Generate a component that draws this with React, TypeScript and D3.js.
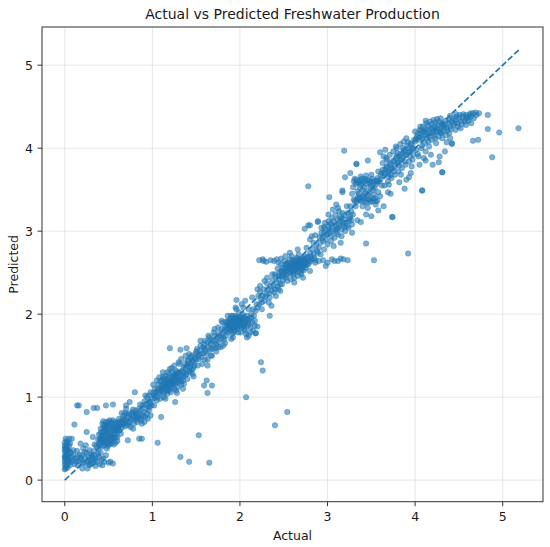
import * as d3 from 'd3';

// [actual, predicted] pairs, grouped by actual range
const stripNearZero: [number, number][] = [
  [0, 0.13], [0.01, 0.16], [0, 0.19], [0.02, 0.21], [0, 0.23], [0.01, 0.25], [0.03, 0.27], [0, 0.29],
  [0.02, 0.31], [0.01, 0.33], [0, 0.35], [0.03, 0.37], [0.01, 0.39], [0, 0.41], [0.02, 0.43], [0.04, 0.2],
  [0.05, 0.24], [0.04, 0.3], [0.06, 0.34], [0, 0.45], [0.01, 0.5], [0.05, 0.5], [0.03, 0.15], [0.02, 0.18],
  [0.04, 0.26], [0.01, 0.28], [0.03, 0.32], [0, 0.38], [0.02, 0.36], [0.05, 0.41], [0.07, 0.22], [0.08, 0.28],
  [0.06, 0.18], [0.1, 0.3], [0.12, 0.26], [0.03, 0.23], [0, 0.27], [0.02, 0.4], [0.08, 0.5], [0.1, 0.36],
  [0.07, 0.33], [0.09, 0.24], [0.11, 0.19], [0.04, 0.36], [0.02, 0.47], [0.06, 0.44], [0.01, 0.14], [0.03, 0.45],
];

const lowBand: [number, number][] = [
  [0.14, 0.9], [0.16, 0.9], [0.11, 0.67], [0.25, 0.82], [0.33, 0.87], [0.37, 0.87], [0.47, 0.9], [0.55, 0.91],
  [0.25, 0.58], [0.32, 0.52], [0.13, 0.22], [0.15, 0.28], [0.17, 0.31], [0.19, 0.24], [0.2, 0.3], [0.22, 0.2],
  [0.23, 0.27], [0.25, 0.33], [0.26, 0.22], [0.27, 0.28], [0.28, 0.18], [0.29, 0.25], [0.3, 0.31], [0.31, 0.2],
  [0.32, 0.27], [0.33, 0.35], [0.34, 0.24], [0.35, 0.17], [0.36, 0.3], [0.37, 0.22], [0.38, 0.38], [0.39, 0.28],
  [0.4, 0.19], [0.41, 0.33], [0.42, 0.25], [0.43, 0.18], [0.45, 0.22], [0.47, 0.3], [0.5, 0.21], [0.18, 0.44],
  [0.21, 0.38], [0.24, 0.42], [0.28, 0.36], [0.34, 0.43], [0.4, 0.42], [0.2, 0.14], [0.15, 0.18], [0.26, 0.14],
  [0.44, 0.26], [0.36, 0.41], [0.52, 0.22], [0.55, 0.2], [0.48, 0.38], [0.14, 0.35], [0.16, 0.23], [0.18, 0.27],
  [0.21, 0.21], [0.23, 0.34], [0.27, 0.24], [0.29, 0.19], [0.31, 0.29], [0.33, 0.21], [0.35, 0.26], [0.38, 0.32],
];

const halfCluster: [number, number][] = [
  [0.4, 0.45], [0.42, 0.5], [0.44, 0.55], [0.46, 0.6], [0.48, 0.65], [0.5, 0.7], [0.52, 0.68], [0.54, 0.63],
  [0.56, 0.58], [0.58, 0.52], [0.6, 0.47], [0.41, 0.62], [0.43, 0.68], [0.45, 0.42], [0.47, 0.47], [0.49, 0.52],
  [0.51, 0.57], [0.53, 0.44], [0.55, 0.49], [0.57, 0.67], [0.59, 0.62], [0.39, 0.55], [0.42, 0.4], [0.44, 0.46],
  [0.46, 0.52], [0.48, 0.58], [0.5, 0.62], [0.52, 0.54], [0.54, 0.48], [0.56, 0.43], [0.58, 0.7], [0.6, 0.58],
  [0.61, 0.65], [0.47, 0.7], [0.45, 0.66], [0.43, 0.58], [0.41, 0.48], [0.5, 0.45], [0.53, 0.6], [0.57, 0.55],
  [0.49, 0.41], [0.55, 0.72], [0.51, 0.49], [0.46, 0.56], [0.44, 0.63], [0.52, 0.66], [0.48, 0.44], [0.58, 0.45],
  [0.54, 0.53], [0.42, 0.53], [0.6, 0.52], [0.62, 0.6], [0.5, 0.54], [0.47, 0.61], [0.53, 0.7], [0.4, 0.5],
  [0.56, 0.64], [0.45, 0.5], [0.59, 0.68], [0.51, 0.43], [0.64, 0.56], [0.72, 0.48], [0.85, 0.5], [0.88, 0.5],
  [0.41, 0.57], [0.43, 0.47], [0.46, 0.45], [0.49, 0.67], [0.52, 0.47], [0.55, 0.61], [0.57, 0.51], [0.6, 0.63],
  [0.63, 0.68], [0.38, 0.49], [0.44, 0.71], [0.51, 0.72], [0.58, 0.6], [0.48, 0.49], [0.53, 0.51], [0.46, 0.64],
  [0.39, 0.44], [0.61, 0.7], [0.66, 0.67], [0.68, 0.73],
];

const bandToOne: [number, number][] = [
  [0.62, 0.66], [0.64, 0.7], [0.66, 0.74], [0.68, 0.68], [0.7, 0.72], [0.72, 0.76], [0.74, 0.7], [0.76, 0.74],
  [0.78, 0.78], [0.8, 0.72], [0.82, 0.76], [0.84, 0.8], [0.86, 0.74], [0.88, 0.78], [0.9, 0.82], [0.92, 0.76],
  [0.94, 0.8], [0.96, 0.84], [0.98, 0.78], [0.65, 0.63], [0.69, 0.65], [0.73, 0.8], [0.77, 0.82], [0.81, 0.84],
  [0.85, 0.86], [0.89, 0.9], [0.93, 0.92], [0.97, 0.95], [0.74, 0.94], [0.8, 1.06], [0.7, 0.86], [0.67, 0.78],
  [0.79, 0.68], [0.83, 0.7], [0.87, 0.72], [0.91, 0.7], [0.95, 0.74], [0.99, 0.9], [0.75, 0.64], [0.63, 0.6],
  [0.67, 0.7], [0.71, 0.79], [0.73, 0.69], [0.76, 0.8], [0.79, 0.75], [0.82, 0.81], [0.84, 0.77], [0.87, 0.84],
  [0.9, 0.77], [0.93, 0.86], [0.95, 0.89], [0.98, 0.93], [0.72, 0.66], [0.78, 0.85], [0.86, 0.91], [0.91, 0.95],
  [0.94, 1.0], [0.97, 0.88], [0.69, 0.81], [0.83, 0.74], [0.88, 0.68], [0.62, 0.74], [0.65, 0.81],
];

const bandOneToOneHalf: [number, number][] = [
  [1.0, 0.98], [1.02, 1.02], [1.04, 1.06], [1.06, 1.0], [1.08, 1.04], [1.1, 1.08], [1.12, 1.12], [1.14, 1.06],
  [1.16, 1.1], [1.18, 1.14], [1.2, 1.18], [1.22, 1.12], [1.24, 1.16], [1.26, 1.2], [1.28, 1.24], [1.3, 1.18],
  [1.32, 1.22], [1.34, 1.26], [1.03, 1.1], [1.07, 1.15], [1.11, 1.2], [1.15, 1.25], [1.19, 1.28], [1.23, 1.3],
  [1.27, 1.32], [1.31, 1.3], [1.05, 0.96], [1.09, 0.98], [1.13, 1.0], [1.17, 1.04], [1.21, 1.06], [1.25, 1.1],
  [1.29, 1.12], [1.33, 1.15], [1.1, 1.14], [1.14, 1.18], [1.18, 1.22], [1.22, 1.24], [1.26, 1.26], [1.16, 1.16],
  [1.2, 1.1], [1.24, 1.22], [1.12, 1.05], [1.08, 1.1], [1.36, 1.3], [1.38, 1.34], [1.4, 1.38], [1.42, 1.32],
  [1.44, 1.4], [1.46, 1.44], [1.48, 1.38], [1.37, 1.4], [1.41, 1.45], [1.45, 1.5], [1.49, 1.47], [1.39, 1.28],
  [1.43, 1.3], [1.47, 1.35], [1.35, 1.2], [1.4, 1.22], [1.46, 1.28], [0.96, 1.02], [0.98, 1.06], [1.01, 1.15],
  [1.05, 1.2], [1.12, 1.3], [1.28, 1.05], [1.35, 1.1], [1.3, 1.42], [1.33, 1.46], [1.38, 1.5], [1.5, 1.55],
  [1.25, 1.38], [1.2, 1.59], [1.32, 1.57], [1.39, 1.59], [1.01, 1.05], [1.03, 0.99], [1.06, 1.09], [1.09, 1.19],
  [1.11, 1.1], [1.13, 1.16], [1.15, 1.21], [1.17, 1.13], [1.19, 1.08], [1.21, 1.2], [1.23, 1.15], [1.25, 1.27],
  [1.27, 1.18], [1.29, 1.28], [1.31, 1.25], [1.33, 1.19], [1.36, 1.36], [1.38, 1.27], [1.41, 1.4], [1.43, 1.36],
  [1.45, 1.33], [1.47, 1.42], [1.49, 1.52], [1.12, 1.25], [1.17, 1.3], [1.22, 1.35], [1.07, 1.06], [1.14, 1.14],
  [1.19, 1.17], [1.24, 1.19], [1.28, 1.3], [1.34, 1.32], [1.4, 1.44], [1.44, 1.48], [1.36, 1.25],
  [1.15, 1.12], [1.18, 1.18], [1.21, 1.16], [1.23, 1.21], [1.26, 1.16], [1.19, 1.24], [1.13, 1.22], [1.25, 1.24],
  [1.29, 1.2], [1.17, 1.08],
];

const bandToTwo: [number, number][] = [
  [1.5, 1.45], [1.52, 1.5], [1.54, 1.56], [1.56, 1.48], [1.58, 1.53], [1.6, 1.58], [1.62, 1.52], [1.64, 1.6],
  [1.66, 1.64], [1.68, 1.58], [1.7, 1.62], [1.72, 1.68], [1.74, 1.72], [1.76, 1.66], [1.78, 1.7], [1.8, 1.76],
  [1.82, 1.8], [1.84, 1.74], [1.86, 1.78], [1.88, 1.84], [1.9, 1.88], [1.92, 1.82], [1.94, 1.86], [1.96, 1.92],
  [1.98, 1.96], [2.0, 1.9], [2.02, 1.84], [2.04, 1.94], [2.06, 1.88], [2.08, 1.98], [2.1, 1.92], [1.87, 1.92],
  [1.91, 1.95], [1.95, 1.98], [1.99, 2.02], [2.03, 2.0], [1.89, 1.8], [1.93, 1.78], [1.97, 1.82], [2.01, 1.78],
  [2.05, 1.82], [1.85, 1.86], [1.94, 1.9], [2.0, 1.86], [1.98, 1.88], [2.07, 1.76], [2.12, 1.84], [2.14, 1.9],
  [2.16, 1.98], [2.18, 2.04], [2.2, 2.08], [1.55, 1.62], [1.6, 1.68], [1.65, 1.72], [1.7, 1.78], [1.75, 1.84],
  [1.8, 1.9], [1.63, 1.45], [1.68, 1.5], [1.73, 1.55], [1.78, 1.6], [1.83, 1.65], [1.57, 1.4], [2.1, 2.06],
  [2.04, 2.08], [1.96, 2.06], [1.9, 1.98], [2.15, 1.8], [2.2, 1.85], [1.92, 1.72], [2.08, 1.72], [2.18, 1.77],
  [1.51, 1.58], [1.53, 1.46], [1.55, 1.52], [1.58, 1.6], [1.61, 1.55], [1.63, 1.66], [1.66, 1.57], [1.69, 1.68],
  [1.71, 1.74], [1.73, 1.64], [1.76, 1.77], [1.79, 1.82], [1.81, 1.72], [1.83, 1.86], [1.85, 1.8], [1.87, 1.87],
  [1.89, 1.95], [1.91, 1.84], [1.93, 1.93], [1.95, 1.87], [1.97, 1.95], [1.99, 1.85], [2.01, 1.92], [2.03, 1.88],
  [2.05, 1.97], [2.07, 1.91], [2.09, 1.86], [2.11, 1.95], [2.13, 2.0], [2.15, 2.06], [2.17, 1.92], [2.19, 2.12],
  [1.88, 1.89], [1.92, 1.9], [1.96, 1.84], [2.0, 1.96], [2.04, 1.86], [1.86, 1.83], [1.9, 1.91], [1.94, 1.95],
  [1.98, 1.91], [2.02, 1.94], [2.06, 1.93], [1.84, 1.91], [1.77, 1.74], [1.72, 1.59], [1.67, 1.69], [1.59, 1.64],
  [2.12, 1.78], [1.82, 1.69], [1.88, 1.82], [1.9, 1.86], [1.93, 1.84], [1.95, 1.9], [1.97, 1.86], [2.0, 1.88],
  [2.02, 1.9], [2.05, 1.86], [2.03, 1.96], [1.99, 1.94], [1.96, 1.96], [1.92, 1.98], [1.86, 1.9], [2.08, 1.94],
  [2.1, 1.88], [2.06, 1.8], [1.98, 1.78], [1.94, 1.8], [1.91, 1.76], [2.13, 1.96],
];

const bandToThree: [number, number][] = [
  [2.22, 2.12], [2.24, 2.18], [2.26, 2.22], [2.28, 2.16], [2.3, 2.24], [2.32, 2.3], [2.34, 2.2], [2.36, 2.28],
  [2.38, 2.34], [2.4, 2.3], [2.42, 2.38], [2.44, 2.42], [2.46, 2.36], [2.48, 2.46], [2.5, 2.5], [2.52, 2.44],
  [2.54, 2.52], [2.56, 2.58], [2.58, 2.5], [2.6, 2.56], [2.62, 2.62], [2.64, 2.54], [2.66, 2.6], [2.68, 2.66],
  [2.7, 2.58], [2.72, 2.64], [2.74, 2.7], [2.76, 2.62], [2.78, 2.68], [2.8, 2.74], [2.55, 2.62], [2.57, 2.66],
  [2.59, 2.7], [2.61, 2.48], [2.63, 2.52], [2.65, 2.68], [2.67, 2.72], [2.69, 2.5], [2.71, 2.54], [2.73, 2.6],
  [2.75, 2.56], [2.53, 2.58], [2.51, 2.64], [2.49, 2.56], [2.47, 2.6], [2.45, 2.5], [2.43, 2.55], [2.58, 2.42],
  [2.62, 2.44], [2.66, 2.46], [2.7, 2.48], [2.6, 2.6], [2.64, 2.62], [2.68, 2.56], [2.72, 2.58], [2.56, 2.54],
  [2.52, 2.52], [2.62, 2.58], [2.66, 2.64], [2.7, 2.62], [2.74, 2.66], [2.78, 2.6], [2.82, 2.66], [2.84, 2.72],
  [2.86, 2.62], [2.88, 2.76], [2.9, 2.8], [2.22, 2.65], [2.26, 2.66], [2.3, 2.63], [2.35, 2.65], [2.9, 2.64],
  [2.95, 2.65], [3.0, 2.62], [3.05, 2.66], [3.12, 2.64], [3.18, 2.66], [3.23, 2.65], [2.98, 2.58], [1.96, 2.17],
  [2.34, 1.98], [2.2, 2.3], [2.28, 2.4], [2.4, 2.48], [2.44, 2.62], [2.36, 2.1], [2.46, 2.28], [2.54, 2.4],
  [2.8, 2.9], [2.84, 2.86], [2.21, 2.22], [2.23, 2.27], [2.25, 2.14], [2.27, 2.3], [2.29, 2.21], [2.31, 2.37],
  [2.33, 2.25], [2.35, 2.34], [2.37, 2.41], [2.39, 2.26], [2.41, 2.45], [2.43, 2.33], [2.45, 2.46], [2.47, 2.52],
  [2.49, 2.41], [2.51, 2.55], [2.53, 2.47], [2.55, 2.56], [2.57, 2.61], [2.59, 2.53], [2.61, 2.64], [2.63, 2.58],
  [2.65, 2.55], [2.67, 2.62], [2.69, 2.59], [2.71, 2.66], [2.73, 2.53], [2.75, 2.63], [2.77, 2.69], [2.79, 2.64],
  [2.81, 2.7], [2.83, 2.78], [2.85, 2.68], [2.87, 2.83], [2.89, 2.74], [2.58, 2.57], [2.62, 2.53], [2.64, 2.66],
  [2.66, 2.51], [2.68, 2.61], [2.7, 2.55], [2.72, 2.68], [2.6, 2.65], [2.56, 2.49], [2.54, 2.61], [2.5, 2.47],
  [2.76, 2.59], [2.74, 2.62], [2.67, 2.57], [2.63, 2.63], [2.59, 2.59], [2.65, 2.6], [2.69, 2.65], [2.71, 2.6],
  [2.57, 2.55], [2.61, 2.51], [2.52, 2.6], [2.48, 2.52], [2.39, 2.64], [2.27, 2.64], [2.42, 2.66], [2.47, 2.67],
  [2.8, 2.63], [2.86, 2.65], [3.08, 2.64], [3.15, 2.67],
];

const bandThreeish: [number, number][] = [
  [2.78, 3.07], [2.89, 3.12], [2.92, 2.86], [2.94, 2.92], [2.96, 2.98], [2.98, 2.9], [3.0, 2.96], [3.02, 3.02],
  [3.04, 2.94], [3.06, 3.0], [3.08, 3.06], [3.1, 2.98], [3.12, 3.04], [3.14, 3.1], [3.16, 3.02], [3.18, 3.08],
  [3.2, 3.14], [3.22, 3.06], [3.24, 3.12], [3.26, 3.18], [2.93, 3.04], [2.97, 3.1], [3.01, 3.12], [3.05, 3.16],
  [3.09, 3.2], [3.13, 3.24], [3.17, 3.22], [3.0, 2.84], [3.04, 2.88], [3.08, 2.92], [3.12, 2.96], [3.16, 2.94],
  [3.2, 3.0], [3.24, 3.04], [3.28, 3.08], [3.1, 3.32], [3.06, 3.26], [2.91, 2.93], [2.93, 2.98], [2.95, 2.88],
  [2.97, 3.03], [2.99, 2.96], [3.01, 3.06], [3.03, 2.98], [3.05, 3.08], [3.07, 3.12], [3.09, 3.02], [3.11, 3.14],
  [3.13, 3.07], [3.15, 3.15], [3.17, 3.11], [3.19, 3.19], [3.21, 3.1], [3.23, 3.22], [3.25, 3.15], [3.27, 3.24],
  [3.29, 3.2], [3.03, 3.09], [3.11, 3.03], [3.19, 3.05], [3.14, 3.17], [2.96, 3.05], [3.27, 3.13],
];

const twoLevelCluster: [number, number][] = [
  [3.3, 3.6], [3.33, 3.62], [3.36, 3.59], [3.39, 3.63], [3.42, 3.6], [3.45, 3.62], [3.48, 3.58], [3.51, 3.63],
  [3.54, 3.6], [3.32, 3.57], [3.38, 3.56], [3.44, 3.57], [3.5, 3.55], [3.56, 3.57], [3.3, 3.38], [3.33, 3.35],
  [3.36, 3.4], [3.39, 3.36], [3.42, 3.39], [3.45, 3.34], [3.48, 3.38], [3.51, 3.36], [3.54, 3.4], [3.57, 3.37],
  [3.35, 3.42], [3.41, 3.43], [3.47, 3.42], [3.53, 3.44], [3.32, 3.3], [3.4, 3.3], [3.46, 3.28], [3.55, 3.32],
  [3.34, 3.48], [3.4, 3.5], [3.46, 3.48], [3.52, 3.5], [3.37, 3.52], [3.43, 3.46], [3.49, 3.53], [3.58, 3.47],
  [3.28, 3.45], [3.26, 3.3], [3.6, 3.42], [3.62, 3.55], [3.44, 3.2], [3.5, 3.18], [3.58, 3.25], [3.64, 3.3],
  [3.02, 3.41], [3.17, 3.49], [3.33, 3.81], [3.46, 3.85], [3.26, 3.7], [3.2, 3.65], [3.31, 3.63], [3.34, 3.58],
  [3.37, 3.61], [3.4, 3.58], [3.43, 3.63], [3.47, 3.61], [3.5, 3.6], [3.53, 3.58], [3.56, 3.61], [3.31, 3.36],
  [3.34, 3.39], [3.37, 3.37], [3.4, 3.41], [3.43, 3.35], [3.46, 3.39], [3.49, 3.35], [3.52, 3.39], [3.55, 3.36],
  [3.36, 3.45], [3.42, 3.53], [3.48, 3.46], [3.54, 3.52], [3.38, 3.66], [3.44, 3.67], [3.5, 3.68], [3.29, 3.53],
  [3.57, 3.64], [3.59, 3.6],
];

const bandToFour: [number, number][] = [
  [3.6, 3.62], [3.62, 3.7], [3.64, 3.66], [3.66, 3.74], [3.68, 3.78], [3.7, 3.72], [3.72, 3.8], [3.74, 3.76],
  [3.76, 3.84], [3.78, 3.88], [3.8, 3.82], [3.82, 3.9], [3.84, 3.86], [3.86, 3.94], [3.88, 3.98], [3.9, 3.92],
  [3.92, 4.0], [3.94, 3.96], [3.96, 4.04], [3.98, 4.0], [3.63, 3.82], [3.67, 3.88], [3.71, 3.92], [3.75, 3.96],
  [3.79, 4.0], [3.83, 4.05], [3.87, 4.08], [3.65, 3.55], [3.69, 3.6], [3.73, 3.64], [3.77, 3.68], [3.81, 3.72],
  [3.85, 3.76], [3.89, 3.8], [3.93, 3.84], [3.97, 3.86], [3.74, 3.17], [3.88, 3.51], [4.08, 3.49], [3.9, 3.62],
  [3.95, 3.7], [3.6, 3.95], [3.66, 3.98], [3.19, 3.97], [3.61, 3.68], [3.63, 3.74], [3.65, 3.7], [3.67, 3.77],
  [3.69, 3.71], [3.71, 3.82], [3.73, 3.75], [3.75, 3.85], [3.77, 3.78], [3.79, 3.9], [3.81, 3.83], [3.83, 3.93],
  [3.85, 3.87], [3.87, 3.97], [3.89, 3.92], [3.91, 4.03], [3.93, 3.95], [3.95, 4.06], [3.97, 3.99], [3.99, 4.1],
  [3.7, 3.66], [3.76, 3.72], [3.82, 3.79], [3.88, 3.84], [3.94, 3.9], [3.68, 3.86], [3.72, 3.68], [3.8, 3.94],
  [3.86, 4.0], [3.92, 4.07],
];

const topCluster: [number, number][] = [
  [4.0, 4.08], [4.02, 4.14], [4.04, 4.1], [4.06, 4.18], [4.08, 4.12], [4.1, 4.2], [4.12, 4.16], [4.14, 4.22],
  [4.16, 4.14], [4.18, 4.24], [4.2, 4.18], [4.22, 4.26], [4.24, 4.2], [4.26, 4.28], [4.28, 4.22], [4.3, 4.26],
  [4.32, 4.2], [4.34, 4.28], [4.36, 4.24], [4.38, 4.3], [4.4, 4.26], [4.42, 4.32], [4.05, 4.22], [4.09, 4.26],
  [4.13, 4.3], [4.17, 4.32], [4.21, 4.34], [4.25, 4.35], [4.29, 4.36], [4.11, 4.06], [4.15, 4.08], [4.19, 4.1],
  [4.23, 4.12], [4.27, 4.14], [4.31, 4.12], [4.35, 4.16], [4.39, 4.18], [4.44, 4.28], [4.46, 4.34], [4.48, 4.3],
  [4.5, 4.36], [4.52, 4.32], [4.54, 4.38], [4.56, 4.34], [4.58, 4.4], [4.6, 4.36], [4.62, 4.4], [4.64, 4.38],
  [4.66, 4.42], [4.7, 4.4], [4.73, 4.42], [4.46, 4.22], [4.52, 4.24], [4.58, 4.28], [4.64, 4.3], [4.4, 4.12],
  [4.07, 4.0], [4.12, 3.96], [4.18, 3.92], [4.1, 3.88], [4.05, 3.8], [4.27, 3.83], [4.31, 3.71], [4.42, 4.06],
  [4.01, 3.98], [4.28, 3.9], [4.34, 3.96], [4.01, 4.11], [4.03, 4.17], [4.05, 4.13], [4.07, 4.21], [4.09, 4.15],
  [4.11, 4.23], [4.13, 4.19], [4.15, 4.27], [4.17, 4.18], [4.19, 4.29], [4.21, 4.21], [4.23, 4.31], [4.25, 4.24],
  [4.27, 4.32], [4.29, 4.19], [4.31, 4.3], [4.33, 4.25], [4.35, 4.33], [4.37, 4.21], [4.39, 4.34], [4.41, 4.23],
  [4.43, 4.36], [4.45, 4.3], [4.47, 4.38], [4.49, 4.26], [4.51, 4.4], [4.53, 4.29], [4.55, 4.41], [4.57, 4.32],
  [4.59, 4.37], [4.61, 4.33], [4.63, 4.42], [4.67, 4.36], [4.69, 4.43], [4.2, 4.24], [4.26, 4.2], [4.32, 4.27],
  [4.14, 4.12], [4.22, 4.15], [4.3, 4.18], [4.08, 4.03], [4.16, 4.02], [4.24, 4.06], [4.03, 3.93], [4.12, 3.85],
  [4.2, 3.8], [4.36, 4.07], [4.06, 4.26], [4.12, 4.33], [4.4, 4.39], [4.47, 4.41],
];

// points lying a little off the main band on either side
const bandHalo: [number, number][] = [
  [0.7, 0.9], [0.78, 0.62], [0.92, 1.02], [1.02, 0.9], [1.08, 1.24], [1.15, 0.98], [1.2, 1.34], [1.27, 1.08],
  [1.31, 1.4], [1.36, 1.16], [1.42, 1.52], [1.47, 1.25], [1.52, 1.38], [1.55, 1.68], [1.6, 1.45], [1.64, 1.74],
  [1.67, 1.5], [1.71, 1.82], [1.75, 1.6], [1.79, 1.92], [1.81, 1.62], [1.86, 1.98], [1.9, 1.7], [1.95, 2.08],
  [2.02, 2.12], [2.06, 2.16], [2.1, 1.74], [2.14, 2.2], [2.17, 1.86], [2.23, 2.34], [2.25, 2.06], [2.31, 2.44],
  [2.33, 2.14], [2.37, 2.48], [2.41, 2.22], [2.44, 2.3], [2.48, 2.36], [2.52, 2.7], [2.57, 2.74], [2.62, 2.38],
  [2.66, 2.78], [2.72, 2.44], [2.76, 2.8], [2.8, 2.52], [2.82, 2.94], [2.86, 2.95], [2.89, 3.11], [2.8, 3.07],
  [2.74, 3.03], [2.92, 2.72], [2.96, 2.78], [3.01, 3.2], [3.07, 2.82], [3.12, 3.28], [3.15, 2.86], [3.22, 3.3],
  [3.28, 2.98], [3.34, 3.13], [3.38, 3.11], [3.17, 3.47], [3.69, 3.47], [3.72, 3.45], [3.82, 3.59], [3.93, 3.65],
  [3.58, 3.72], [3.64, 3.9], [3.7, 3.56], [3.78, 4.02], [3.84, 3.68], [3.9, 4.12], [3.96, 3.78], [4.0, 4.2],
  [3.98, 3.92], [4.04, 3.9],
];

const outliers: [number, number][] = [
  [2.24, 1.42], [2.26, 1.32], [2.07, 1.0], [2.54, 0.82], [2.4, 0.66], [1.53, 0.54], [1.06, 0.45], [1.32, 0.28],
  [1.42, 0.22], [1.65, 0.21], [1.63, 1.38], [1.62, 1.2], [1.59, 1.14], [1.68, 1.14], [1.63, 1.05], [2.18, 1.77],
  [1.26, 0.94], [1.1, 0.76], [5.18, 4.24], [4.96, 4.19], [4.83, 4.23], [4.83, 4.4], [4.88, 3.89], [4.72, 4.1],
  [4.66, 4.09], [4.31, 3.71], [4.08, 3.49], [3.74, 3.17], [2.78, 3.54], [3.44, 2.85], [3.92, 2.73], [3.53, 2.65],
  [3.33, 3.81], [4.42, 4.05],
];

const points = [
  ...stripNearZero, ...lowBand, ...halfCluster, ...bandToOne, ...bandOneToOneHalf, ...bandToTwo,
  ...bandToThree, ...bandThreeish, ...twoLevelCluster, ...bandToFour, ...topCluster, ...bandHalo, ...outliers,
];

const ticks = [0, 1, 2, 3, 4, 5];
const lineEnd = 5.2;

const W = 550;
const H = 547;
const left = 42;
const right = 543;
const top = 27;
const bottom = 501.7;
const blue = '#1f77b4';
const ink = '#1a1a1a';

export default function App() {
  const x = d3.scaleLinear().domain([-0.26, 5.46]).range([left, right]);
  const y = d3.scaleLinear().domain([-0.26, 5.46]).range([bottom, top]);
  const diag = d3.line<number>().x(d => x(d)).y(d => y(d))([0, lineEnd]) ?? '';

  return (
    <svg
      width={W}
      height={H}
      style={{ position: 'absolute', left: 0, top: 0, background: '#fff' }}
      fontFamily="DejaVu Sans, sans-serif"
    >
      <rect width={W} height={H} fill="#fff" />
      {/* grid */}
      {ticks.map(t => (
        <g key={`g${t}`}>
          <line x1={x(t)} x2={x(t)} y1={top} y2={bottom} stroke="#b0b0b0" strokeOpacity={0.3} strokeWidth={1} />
          <line x1={left} x2={right} y1={y(t)} y2={y(t)} stroke="#b0b0b0" strokeOpacity={0.3} strokeWidth={1} />
        </g>
      ))}
      {/* points */}
      <g fill={blue} fillOpacity={0.58} stroke={blue} strokeOpacity={0.58} strokeWidth={0.6}>
        {points.map((d, i) => (
          <circle key={i} cx={x(d[0])} cy={y(d[1])} r={2.75} />
        ))}
      </g>
      {/* ideal line */}
      <path d={diag} fill="none" stroke={blue} strokeWidth={1.7} strokeDasharray="6,2.6" />
      {/* frame */}
      <rect x={left} y={top} width={right - left} height={bottom - top} fill="none" stroke="#333" strokeWidth={1} />
      {/* x ticks */}
      {ticks.map(t => (
        <g key={`x${t}`}>
          <line x1={x(t)} x2={x(t)} y1={bottom} y2={bottom + 4.5} stroke="#333" strokeWidth={1} />
          <text x={x(t)} y={bottom + 19.5} textAnchor="middle" fontSize={12.5} fill={ink}>{t}</text>
        </g>
      ))}
      {/* y ticks */}
      {ticks.map(t => (
        <g key={`y${t}`}>
          <line x1={left - 4.5} x2={left} y1={y(t)} y2={y(t)} stroke="#333" strokeWidth={1} />
          <text x={left - 9} y={y(t)} dy="0.36em" textAnchor="end" fontSize={12.5} fill={ink}>{t}</text>
        </g>
      ))}
      <text x={(left + right) / 2} y={18.5} textAnchor="middle" fontSize={14} fill={ink}>
        Actual vs Predicted Freshwater Production
      </text>
      <text x={(left + right) / 2} y={540} textAnchor="middle" fontSize={12.5} fill={ink}>Actual</text>
      <text
        transform={`translate(18, ${(top + bottom) / 2}) rotate(-90)`}
        textAnchor="middle"
        fontSize={12.5}
        fill={ink}
      >
        Predicted
      </text>
    </svg>
  );
}
